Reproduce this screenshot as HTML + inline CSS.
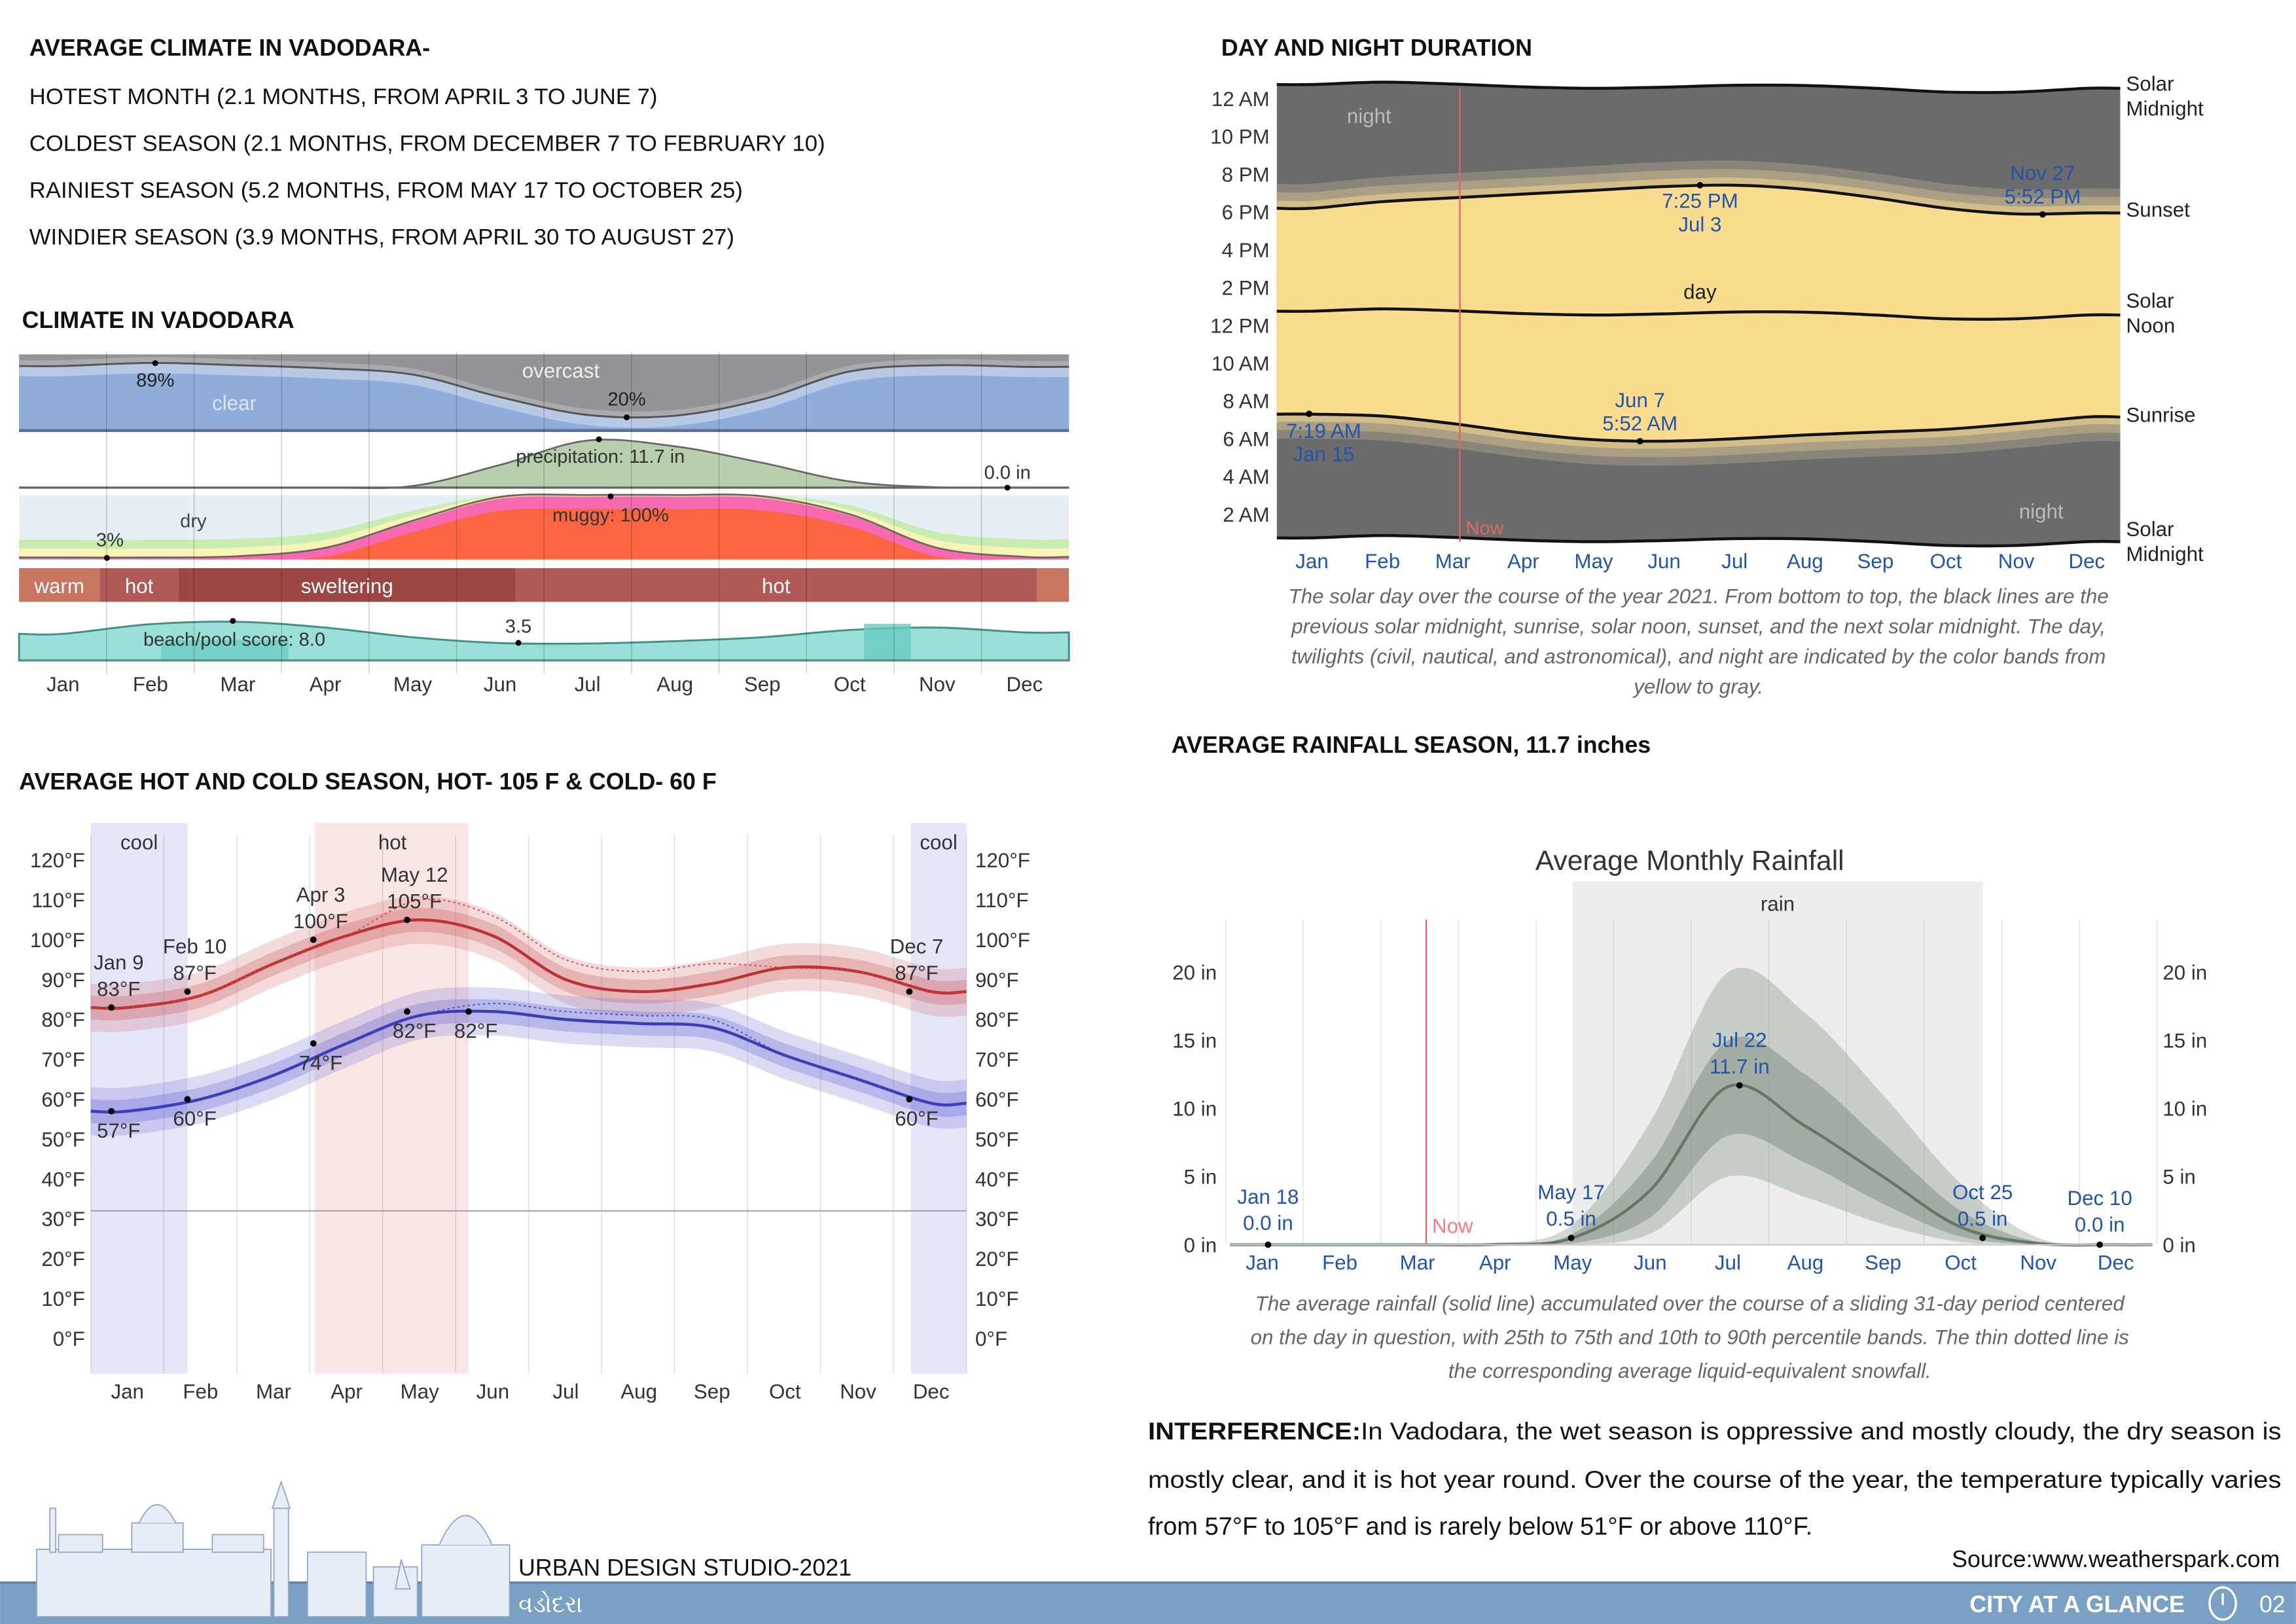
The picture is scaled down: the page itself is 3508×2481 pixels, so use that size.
<!DOCTYPE html>
<html><head><meta charset="utf-8">
<style>
html,body{margin:0;padding:0;background:#fff;}
svg{display:block;font-family:"Liberation Sans","Noto Sans CJK SC",sans-serif;}
.h{font-weight:bold;font-size:16px;fill:#111;}
.t{font-size:15.5px;fill:#111;}
.ax{font-size:14px;fill:#333;}
.blue{font-size:14px;fill:#2255aa;}
.cap{font-size:14px;fill:#666;font-style:italic;}
</style></head>
<body>
<svg id="s" width="3508" height="2481" viewBox="0 0 1568 1109" xmlns="http://www.w3.org/2000/svg">
<rect width="1568" height="1109" fill="#fff"/>
<g>
<text x="20" y="38" class="h">AVERAGE CLIMATE  IN  VADODARA-</text>
<text x="20" y="71" class="t">HOTEST MONTH (2.1 MONTHS, FROM APRIL 3 TO JUNE 7)</text>
<text x="20" y="103" class="t">COLDEST SEASON (2.1 MONTHS, FROM DECEMBER 7 TO FEBRUARY 10)</text>
<text x="20" y="135" class="t">RAINIEST SEASON (5.2 MONTHS, FROM MAY 17 TO OCTOBER 25)</text>
<text x="20" y="167" class="t">WINDIER SEASON (3.9 MONTHS, FROM APRIL 30 TO AUGUST 27)</text>
<text x="15" y="224" class="h">CLIMATE IN VADODARA</text>
<text x="13" y="539" class="h">AVERAGE HOT AND COLD SEASON, HOT- 105 F &amp; COLD- 60 F</text>
<text x="834" y="38" class="h">DAY AND NIGHT DURATION</text>
<text x="800" y="514" class="h">AVERAGE RAINFALL SEASON, 11.7 inches</text>
</g>
<g id="climate"></g>
<g id="temp"></g>
<g id="day"></g>
<g id="rain"></g>

<g>
<text x="784" y="983" style="font-size:16.5px" fill="#111" textLength="774" lengthAdjust="spacingAndGlyphs"><tspan font-weight="bold">INTERFERENCE:</tspan>In Vadodara, the wet season is oppressive and mostly cloudy, the dry season is</text>
<text x="784" y="1016" style="font-size:16.5px" fill="#111" textLength="774" lengthAdjust="spacingAndGlyphs">mostly clear, and it is hot year round. Over the course of the year, the temperature typically varies</text>
<text x="784" y="1048" style="font-size:17px" fill="#111">from 57°F to 105°F and is rarely below 51°F or above 110°F.</text>
<text x="1557" y="1070" text-anchor="end" style="font-size:16px" fill="#111">Source:www.weatherspark.com</text>
</g>
<g>
<rect x="0" y="1080" width="1568" height="29" fill="#7aa0c4"/>
<rect x="0" y="1080" width="1568" height="1.5" fill="#5b82ab"/>
<g fill="#e8eef8" stroke="#8fa6cf" stroke-width="0.8">
<rect x="25" y="1058" width="160" height="46"/>
<rect x="40" y="1048" width="30" height="12"/>
<rect x="90" y="1040" width="35" height="20"/>
<path d="M95 1040 Q107 1015 120 1040"/>
<rect x="34" y="1030" width="4" height="30"/>
<rect x="145" y="1048" width="35" height="12"/>
<rect x="187" y="1030" width="10" height="74"/>
<path d="M192 1012 L186 1030 L198 1030Z"/>
<rect x="210" y="1060" width="40" height="44"/>
<rect x="255" y="1070" width="30" height="34"/>
<rect x="288" y="1055" width="60" height="49"/>
<path d="M300 1055 Q318 1015 336 1055"/>
<path d="M274 1065 L270 1085 L280 1085Z"/>
</g>
<text x="354" y="1076" style="font-size:16px" fill="#111">URBAN DESIGN STUDIO-2021</text>
<text x="354" y="1101" style="font-size:16px" fill="#fff">વડોદરા</text>
<text x="1492" y="1101" text-anchor="end" style="font-size:16px;font-weight:bold" fill="#fff">CITY AT A GLANCE</text>
<ellipse cx="1518" cy="1095" rx="9" ry="11" fill="none" stroke="#fff" stroke-width="1.5"/>
<line x1="1518" y1="1088" x2="1518" y2="1096" stroke="#fff" stroke-width="1.5"/>
<text x="1543" y="1101" style="font-size:16px" fill="#fff">02</text>
</g>
</svg>
<script>
var months=['Jan','Feb','Mar','Apr','May','Jun','Jul','Aug','Sep','Oct','Nov','Dec'];
var clearPct=[85,89,86,82,74,45,22,21,42,78,86,84];
var precipIn=[0,0,0,0,0.4,5.5,11.4,10,6,1.5,0.1,0];
var muggyPct=[3,3,5,18,60,97,100,100,98,70,18,4];
var beachScore=[5.5,7.5,8,6.8,4.8,3.6,3.5,4,4.8,6.3,6.8,5.8];
var highF=[83,86,94,101,105,101,90,87,89,93,92,87];
var lowF=[57,60,66,74,81,82,80,79,78,71,65,59];
var sunriseH=[7.3,7.2,6.8,6.3,5.95,5.87,6.0,6.2,6.35,6.5,6.8,7.15];
var sunsetH=[18.2,18.55,18.75,18.95,19.15,19.35,19.42,19.2,18.75,18.2,17.9,17.95];
var rainMean=[0,0,0,0.02,0.5,4,11.6,8.7,5,1.3,0.1,0];
var rainP10=[0,0,0,0,0,0.8,5,3.5,1.5,0.2,0,0];
var rainP25=[0,0,0,0,0.1,2,8,6,3,0.6,0,0];
var rainP75=[0,0,0,0,0.8,6,15,12.5,7.5,2.5,0.2,0];
var rainP90=[0,0,0,0.05,1.5,9,20,17,11,4.5,0.5,0];
var tempTicks=[0,10,20,30,40,50,60,70,80,90,100,110,120];
var hourTicks=['2 AM','4 AM','6 AM','8 AM','10 AM','12 PM','2 PM','4 PM','6 PM','8 PM','10 PM','12 AM'];
var rainTicks=[0,5,10,15,20];
var NS='http://www.w3.org/2000/svg';
function el(parent,tag,attrs,txt){var e=document.createElementNS(NS,tag);for(var k in attrs)e.setAttribute(k,attrs[k]);if(txt!==undefined)e.textContent=txt;parent.appendChild(e);return e;}
function smooth(pts){var d='M'+pts[0][0]+' '+pts[0][1];for(var i=0;i<pts.length-1;i++){var p0=pts[i-1]||pts[i],p1=pts[i],p2=pts[i+1],p3=pts[i+2]||p2;var c1x=p1[0]+(p2[0]-p0[0])/6,c1y=p1[1]+(p2[1]-p0[1])/6,c2x=p2[0]-(p3[0]-p1[0])/6,c2y=p2[1]-(p3[1]-p1[1])/6;d+=' C'+c1x+' '+c1y+' '+c2x+' '+c2y+' '+p2[0]+' '+p2[1];}return d;}
function series(vals,xf,yf,x0,x1){var p=vals.map(function(v,i){return [xf(i),yf(v)];});p.unshift([x0,p[0][1]]);p.push([x1,p[p.length-1][1]]);return p;}
function area(pts,base){return smooth(pts)+' L'+pts[pts.length-1][0]+' '+base+' L'+pts[0][0]+' '+base+'Z';}
function band(up,lo){var r=lo.slice().reverse();var d=smooth(up);d+=' L'+r[0][0]+' '+r[0][1]+smooth(r).slice(smooth(r).indexOf('C')-1)+'Z';return d;}

(function(){
var g=document.getElementById('climate');
var X0=13,X1=730;
function xm(i){return 43+59.7*i;}
el(g,'rect',{x:X0,y:242,width:X1-X0,height:53,fill:'#929497'});
var cp=series(clearPct,xm,function(v){return 242+53*(1-v/100);},X0,X1);
var cpL=series(clearPct,xm,function(v){return 242+53*(1-v/100)-4;},X0,X1);
var cpB=series(clearPct,xm,function(v){return 242+53*(1-v/100)+7;},X0,X1);
var a=el(g,'path',{d:area(cpL,295),fill:'#a9abad'});
el(g,'path',{d:area(cp,295),fill:'#b7c9e4'});
el(g,'path',{d:area(cpB,295),fill:'#8eaddb'});
el(g,'path',{d:smooth(cp),fill:'none',stroke:'#555',"stroke-width":1.3});
el(g,'rect',{x:X0,y:293,width:X1-X0,height:2,fill:'#5d6f94'});
el(g,'text',{x:383,y:258,"text-anchor":'middle',fill:'#eee',"font-size":14},'overcast');
el(g,'text',{x:160,y:280,"text-anchor":'middle',fill:'#dde6f4',"font-size":14},'clear');
el(g,'text',{x:106,y:264,"text-anchor":'middle',fill:'#222',"font-size":13},'89%');
el(g,'text',{x:428,y:277,"text-anchor":'middle',fill:'#222',"font-size":13},'20%');
el(g,'circle',{cx:106,cy:248,r:2,fill:'#000'});el(g,'circle',{cx:428,cy:285,r:2,fill:'#000'});
var pp=series(precipIn,xm,function(v){return 333-2.82*v;},X0,X1);
var pa=el(g,'path',{d:area(pp,333),fill:'#b8cfae',stroke:'#666',"stroke-width":1.2});

el(g,'line',{x1:X0,y1:333,x2:X1,y2:333,stroke:'#666',"stroke-width":1.5});
el(g,'text',{x:410,y:316,"text-anchor":'middle',fill:'#333',"font-size":13},'precipitation: 11.7 in');
el(g,'text',{x:688,y:327,"text-anchor":'middle',fill:'#333',"font-size":13},'0.0 in');
el(g,'circle',{cx:409,cy:300,r:2,fill:'#000'});el(g,'circle',{cx:688,cy:333,r:2,fill:'#000'});
el(g,'rect',{x:X0,y:338,width:X1-X0,height:44,fill:'#e6eff4'});
var layers=[[28,'#c9ecb2'],[14,'#f8f3b6'],[0,'#f9c6a0'],[-1,'#f76aaf'],[-2,'#fb6542']];
layers.forEach(function(L,k){var f;if(L[0]>=0)f=function(v){return 382-0.44*Math.min(100,v+L[0]*(1-v/140));};else if(L[0]==-1)f=function(v){return 382-0.44*v*0.97;};else f=function(v){return 382-0.44*Math.max(0,v*0.9-12);};
var p=series(muggyPct,xm,f,X0,X1);el(g,'path',{d:area(p,382),fill:L[1]});});
var mp=series(muggyPct,xm,function(v){return 382-0.44*v;},X0,X1);
el(g,'path',{d:smooth(mp),fill:'none',stroke:'#666',"stroke-width":1.2});
el(g,'text',{x:132,y:360,"text-anchor":'middle',fill:'#444',"font-size":13},'dry');
el(g,'text',{x:75,y:373,"text-anchor":'middle',fill:'#333',"font-size":13},'3%');
el(g,'text',{x:417,y:356,"text-anchor":'middle',fill:'#333',"font-size":13},'muggy: 100%');
el(g,'circle',{cx:417,cy:339,r:2,fill:'#000'});el(g,'circle',{cx:73,cy:381,r:2,fill:'#000'});
var segs=[[13,68,'#c87561','warm'],[68,122,'#b05a58','hot'],[122,352,'#9c4744','sweltering'],[352,708,'#b05a58','hot'],[708,730,'#c87561','']];
segs.forEach(function(s){el(g,'rect',{x:s[0],y:388,width:s[1]-s[0],height:23,fill:s[2]});if(s[3])el(g,'text',{x:(s[0]+s[1])/2,y:405,"text-anchor":'middle',fill:'#fff',"font-size":14},s[3]);});
el(g,'rect',{x:X0,y:417,width:X1-X0,height:34,fill:'#fff'});
var bp=series(beachScore,xm,function(v){return 451-3.3*v;},X0,X1);
var ba=el(g,'path',{d:area(bp,451),fill:'#9be0d8',stroke:'#3f8f86',"stroke-width":1.3});

el(g,'rect',{x:110,y:437,width:87,height:14,fill:'#66cbc2',opacity:0.7});
el(g,'rect',{x:590,y:426,width:32,height:25,fill:'#66cbc2',opacity:0.8});
el(g,'line',{x1:X0,y1:451,x2:X1,y2:451,stroke:'#5b8d88',"stroke-width":1.5});
el(g,'text',{x:160,y:441,"text-anchor":'middle',fill:'#333',"font-size":13},'beach/pool score: 8.0');
el(g,'text',{x:354,y:432,"text-anchor":'middle',fill:'#333',"font-size":13},'3.5');
el(g,'circle',{cx:159,cy:424,r:2,fill:'#000'});el(g,'circle',{cx:354,cy:439,r:2,fill:'#000'});
for(var i=1;i<12;i++){var xx=13+717*i/12;el(g,'line',{x1:xx,y1:240,x2:xx,y2:460,stroke:'#000',"stroke-opacity":0.18,"stroke-width":0.7});}
months.forEach(function(m,i){var t=el(g,'text',{x:xm(i),y:472,"text-anchor":'middle',"class":'ax'},m);});
})();

(function(){
var g=document.getElementById('temp');
function xm(i){return 87+49.9*i;}
function y(t){return 914-2.7225*t;}
var X0=62,X1=660;
el(g,'rect',{x:62,y:562,width:66,height:376,fill:'#e6e6fb'});
el(g,'rect',{x:215,y:562,width:105,height:376,fill:'#fbe6e6'});
el(g,'rect',{x:622,y:562,width:38,height:376,fill:'#e6e6fb'});
el(g,'text',{x:95,y:580,"text-anchor":'middle',"class":'ax'},'cool');
el(g,'text',{x:268,y:580,"text-anchor":'middle',"class":'ax'},'hot');
el(g,'text',{x:641,y:580,"text-anchor":'middle',"class":'ax'},'cool');
for(var i=0;i<13;i++){var xx=62+598*i/12;el(g,'line',{x1:xx,y1:570,x2:xx,y2:938,stroke:'#000',"stroke-opacity":0.12,"stroke-width":0.7});}
el(g,'line',{x1:X0,y1:y(32),x2:X1,y2:y(32),stroke:'#aaa',"stroke-width":1});
tempTicks.forEach(function(t){el(g,'text',{x:58,y:y(t)+5,"text-anchor":'end',"class":'ax'},t+'°F');el(g,'text',{x:666,y:y(t)+5,"class":'ax'},t+'°F');});
function draw(vals,c1,c2,c3,name){
 var up2=series(vals.map(function(v){return v+6;}),xm,y,X0,X1),lo2=series(vals.map(function(v){return v-6;}),xm,y,X0,X1);
 var up1=series(vals.map(function(v){return v+3;}),xm,y,X0,X1),lo1=series(vals.map(function(v){return v-3;}),xm,y,X0,X1);
 el(g,'path',{d:band(up2,lo2),fill:c1});el(g,'path',{d:band(up1,lo1),fill:c2});
 var l=el(g,'path',{d:smooth(series(vals,xm,y,X0,X1)),fill:'none',stroke:c3,"stroke-width":2});
 
}
draw(highF,'rgba(210,110,110,0.25)','rgba(200,90,90,0.3)','#bb3333','high-temp-line');
draw(lowF,'rgba(110,110,210,0.25)','rgba(100,100,210,0.3)','#3c3cb4','low-temp-line');
el(g,'path',{d:smooth(series(highF.map(function(v,i){return v+(i>=4&&i<=8?5:0);}),xm,y,X0,X1)),fill:'none',stroke:'#c44',"stroke-width":0.8,"stroke-dasharray":'1.5 2'});
el(g,'path',{d:smooth(series(lowF.map(function(v,i){return v+(i>=5&&i<=8?2:0);}),xm,y,X0,X1)),fill:'none',stroke:'#44c',"stroke-width":0.8,"stroke-dasharray":'1.5 2'});
var ann=[[76,83,'Jan 9','83°F',-1],[128,87,'Feb 10','87°F',-1],[214,100,'Apr 3','100°F',-1],[278,105,'May 12','105°F',-1],[621,87,'Dec 7','87°F',-1],[76,57,'','57°F',1],[128,60,'','60°F',1],[214,74,'','74°F',1],[278,82,'','82°F',1],[320,82,'','82°F',1],[621,60,'','60°F',1]];
ann.forEach(function(a){el(g,'circle',{cx:a[0],cy:y(a[1]),r:2.2,fill:'#000'});
 if(a[4]<0){el(g,'text',{x:a[0]+5,y:y(a[1])-26,"text-anchor":'middle',"class":'ax'},a[2]);el(g,'text',{x:a[0]+5,y:y(a[1])-8,"text-anchor":'middle',"class":'ax'},a[3]);}
 else el(g,'text',{x:a[0]+5,y:y(a[1])+18,"text-anchor":'middle',"class":'ax'},a[3]);});
months.forEach(function(m,i){el(g,'text',{x:xm(i),y:955,"text-anchor":'middle',"class":'ax'},m);});
})();

(function(){
var g=document.getElementById('day');
function xm(i){return 896+48.1*i;}
function y(h){return 377-12.9*h;}
var X0=872,X1=1448;
var noon=sunriseH.map(function(v,i){return (v+sunsetH[i])/2;});
var top=series(noon.map(function(v){return v+12;}),xm,y,X0,X1),bot=series(noon.map(function(v){return v-12;}),xm,y,X0,X1);
el(g,'path',{d:band(top,bot),fill:'#6b6b6b'});
var tw=[[1.3,'#8a857a'],[0.85,'#ab9f83'],[0.4,'#d2bd89']];
tw.forEach(function(t){var u=series(sunsetH.map(function(v){return v+t[0];}),xm,y,X0,X1),l=series(sunriseH.map(function(v){return v-t[0];}),xm,y,X0,X1);el(g,'path',{d:band(u,l),fill:t[1]});});
var ss=series(sunsetH,xm,y,X0,X1),sr=series(sunriseH,xm,y,X0,X1);
var dy=el(g,'path',{d:band(ss,sr),fill:'#f9dc8e'});
[top,ss,series(noon,xm,y,X0,X1),sr,bot].forEach(function(p){el(g,'path',{d:smooth(p),fill:'none',stroke:'#111',"stroke-width":2});});
el(g,'line',{x1:997,y1:60,x2:997,y2:370,stroke:'#e06666',"stroke-width":1});
el(g,'text',{x:1001,y:365,fill:'#e06666',"font-size":13},'Now');
hourTicks.forEach(function(t,i){el(g,'text',{x:867,y:y(2*(i+1))+5,"text-anchor":'end',"class":'ax'},t);});
el(g,'text',{x:935,y:84,"text-anchor":'middle',fill:'#bbb',"font-size":14},'night');
el(g,'text',{x:1394,y:354,"text-anchor":'middle',fill:'#bbb',"font-size":14},'night');
el(g,'text',{x:1161,y:204,"text-anchor":'middle',fill:'#222',"font-size":14},'day');
var lab=[[1452,62,'Solar'],[1452,79,'Midnight'],[1452,148,'Sunset'],[1452,210,'Solar'],[1452,227,'Noon'],[1452,288,'Sunrise'],[1452,366,'Solar'],[1452,383,'Midnight']];
lab.forEach(function(l){el(g,'text',{x:l[0],y:l[1],fill:'#222',"font-size":14},l[2]);});
var ann=[[894,7.32,'7:19 AM','Jan 15',904,299],[1120,5.87,'Jun 7','5:52 AM',1120,278],[1161,19.42,'7:25 PM','Jul 3',1161,142],[1395,17.87,'Nov 27','5:52 PM',1395,123]];
ann.forEach(function(a){el(g,'circle',{cx:a[0],cy:y(a[1]),r:2.2,fill:'#000'});el(g,'text',{x:a[4],y:a[5],"text-anchor":'middle',"class":'blue'},a[2]);el(g,'text',{x:a[4],y:a[5]+16,"text-anchor":'middle',"class":'blue'},a[3]);});
months.forEach(function(m,i){el(g,'text',{x:xm(i),y:388,"text-anchor":'middle',"class":'blue'},m);});
var cap=['The solar day over the course of the year 2021. From bottom to top, the black lines are the','previous solar midnight, sunrise, solar noon, sunset, and the next solar midnight. The day,','twilights (civil, nautical, and astronomical), and night are indicated by the color bands from','yellow to gray.'];
cap.forEach(function(c,i){el(g,'text',{x:1160,y:412+20.5*i,"text-anchor":'middle',"class":'cap'},c);});
})();

(function(){
var g=document.getElementById('rain');
function xm(i){return 862+53*i;}
function y(v){return 850-9.3*v;}
var X0=840,X1=1470;
el(g,'text',{x:1154,y:594,"text-anchor":'middle',fill:'#333',"font-size":19},'Average Monthly Rainfall');
el(g,'rect',{x:1074,y:602,width:280,height:248,fill:'#ededed'});
el(g,'text',{x:1214,y:622,"text-anchor":'middle',"class":'ax'},'rain');
for(var i=0;i<=12;i++){var xx=837+53*i;el(g,'line',{x1:xx,y1:628,x2:xx,y2:850,stroke:'#000',"stroke-opacity":0.1,"stroke-width":0.7});}
rainTicks.forEach(function(t){el(g,'text',{x:831,y:y(t)+5,"text-anchor":'end',"class":'ax'},t+' in');el(g,'text',{x:1477,y:y(t)+5,"class":'ax'},t+' in');});
el(g,'line',{x1:974,y1:628,x2:974,y2:850,stroke:'#e06666',"stroke-width":1});
el(g,'text',{x:978,y:842,fill:'#f08080',"font-size":14},'Now');
function S(v){return series(v,xm,y,X0,X1);}
el(g,'path',{d:band(S(rainP90),S(rainP10)),fill:'rgba(130,145,130,0.35)'});
el(g,'path',{d:band(S(rainP75),S(rainP25)),fill:'rgba(120,135,120,0.45)'});
var ml=el(g,'path',{d:smooth(S(rainMean)),fill:'none',stroke:'#667766',"stroke-width":2});

el(g,'line',{x1:X0,y1:850,x2:X1,y2:850,stroke:'#ccc',"stroke-width":1});
var ann=[[866,0,'Jan 18','0.0 in',866,822],[1073,0.5,'May 17','0.5 in',1073,819],[1188,11.7,'Jul 22','11.7 in',1188,715],[1354,0.5,'Oct 25','0.5 in',1354,819],[1434,0,'Dec 10','0.0 in',1434,823]];
ann.forEach(function(a){el(g,'circle',{cx:a[0],cy:y(a[1]),r:2.2,fill:'#000'});el(g,'text',{x:a[4],y:a[5],"text-anchor":'middle',"class":'blue',"font-size":15},a[2]);el(g,'text',{x:a[4],y:a[5]+18,"text-anchor":'middle',"class":'blue'},a[3]);});
months.forEach(function(m,i){el(g,'text',{x:xm(i),y:867,"text-anchor":'middle',"class":'blue'},m);});
var cap=['The average rainfall (solid line) accumulated over the course of a sliding 31-day period centered','on the day in question, with 25th to 75th and 10th to 90th percentile bands. The thin dotted line is','the corresponding average liquid-equivalent snowfall.'];
cap.forEach(function(c,i){el(g,'text',{x:1154,y:895+23*i,"text-anchor":'middle',"class":'cap',"font-size":15},c);});
})();
</script>
</body></html>
